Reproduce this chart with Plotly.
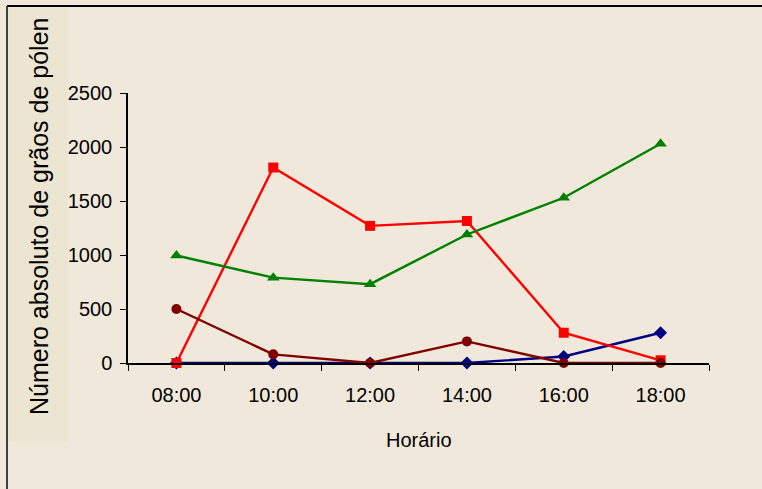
import plotly.graph_objects as go

horarios = ["08:00", "10:00", "12:00", "14:00", "16:00", "18:00"]
serie_azul = [0, 0, 0, 0, 60, 280]
serie_vermelha = [0, 1810, 1270, 1315, 280, 25]
serie_verde = [995, 790, 730, 1190, 1530, 2030]
serie_marrom = [500, 80, 0, 200, 0, 0]
y_ticks = [0, 500, 1000, 1500, 2000, 2500]

W, H = 762, 489
L, R, T, B = 128, 709, 93, 363
FONT = "Liberation Sans, Arial, sans-serif"

def px_x(p):
    return (p - L) / (R - L)

def px_y(p):
    return (B - p) / (B - T)

fig = go.Figure()
series = [
    (serie_azul, "#000080", "diamond", 10),
    (serie_vermelha, "#FF0000", "square", 10),
    (serie_verde, "#008000", "triangle-up", 11),
    (serie_marrom, "#800000", "circle", 10),
]
for vals, col, sym, sz in series:
    fig.add_trace(go.Scatter(
        x=horarios, y=vals, mode="lines+markers",
        line=dict(color=col, width=2.4),
        marker=dict(color=col, symbol=sym, size=sz),
        showlegend=False, cliponaxis=False,
    ))

fig.update_layout(
    width=W, height=H,
    margin=dict(l=L, r=W - R, t=T, b=H - B),
    paper_bgcolor="#F0E9DB",
    plot_bgcolor="#F0E9DB",
    font=dict(family=FONT, size=20, color="#000000"),
    xaxis=dict(
        type="category", range=[-0.5, 5.5], tickson="boundaries",
        showline=True, linecolor="#000000", linewidth=1.5,
        ticks="outside", ticklen=6, tickcolor="#000000", tickwidth=1,
        showgrid=False, zeroline=False, ticklabelstandoff=13,
        tickfont=dict(size=20),
    ),
    yaxis=dict(
        range=[0, 2500], tickvals=y_ticks,
        showline=True, linecolor="#000000", linewidth=1.5,
        ticks="outside", ticklen=6, tickcolor="#000000", tickwidth=1,
        showgrid=False, zeroline=False, ticklabelstandoff=4,
        tickfont=dict(size=20),
    ),
    shapes=[
        dict(type="rect", xref="paper", yref="paper", layer="below",
             x0=px_x(9), x1=px_x(68), y0=px_y(442), y1=px_y(8),
             fillcolor="#ECE5D1", line=dict(width=0)),
        dict(type="line", xref="paper", yref="paper",
             x0=px_x(7), x1=px_x(762), y0=px_y(6), y1=px_y(6),
             line=dict(color="#000000", width=2)),
        dict(type="line", xref="paper", yref="paper",
             x0=px_x(7), x1=px_x(7), y0=px_y(6), y1=px_y(489),
             line=dict(color="#404040", width=2)),
    ],
    annotations=[
        dict(text="Número absoluto de grãos de pólen", xref="paper", yref="paper",
             x=px_x(39), y=px_y(216), textangle=-90, showarrow=False,
             xanchor="center", yanchor="middle", font=dict(size=25)),
        dict(text="Horário", xref="paper", yref="paper",
             x=px_x(419), y=px_y(440), showarrow=False,
             xanchor="center", yanchor="middle", font=dict(size=20)),
    ],
)

fig.write_html(
    "out.html",
    config={"displayModeBar": False},
    post_script="document.body.style.margin='0px';document.body.style.overflow='hidden';",
)
